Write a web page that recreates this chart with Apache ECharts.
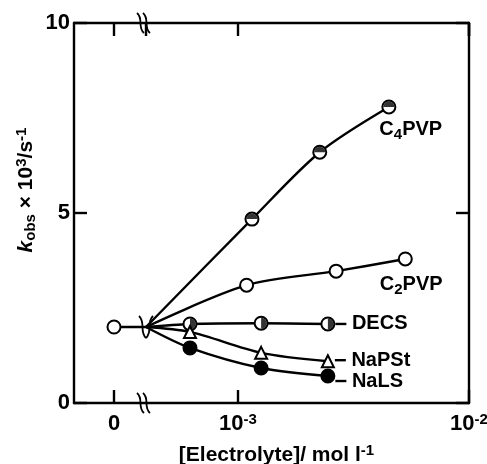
<!DOCTYPE html>
<html><head><meta charset="utf-8">
<script src="https://cdn.jsdelivr.net/npm/echarts@6/dist/echarts.min.js"></script>
<style>html,body{margin:0;padding:0;background:#fff}#c{width:487px;height:464px}</style>
</head><body><div id="c"></div>
<script>
// ---- data ----
const zeroConc = [0];            // electrolyte-free point
const zeroK = [2.0];
const kAtBreak = 2.0;            // common origin of all curves at the axis break
const concC4PVP = [1.15e-3, 2.26e-3, 4.5e-3];
const kC4PVP    = [4.84, 6.6, 7.79];
const concC2PVP = [1.09e-3, 2.66e-3, 5.3e-3];
const kC2PVP    = [3.1, 3.47, 3.79];
const concDECS  = [6.2e-4, 1.26e-3, 2.45e-3];
const kDECS     = [2.08, 2.1, 2.08];
const concNaPSt = [6.2e-4, 1.26e-3, 2.45e-3];
const kNaPSt    = [1.87, 1.32, 1.1];
const concNaLS  = [6.2e-4, 1.26e-3, 2.45e-3];
const kNaLS     = [1.45, 0.92, 0.71];
const yTickValues = [0, 5, 10];
const linTickValues = [0];
const logMin = 4e-4, logMax = 1e-2;
const linMin = -1, linMax = 0.8;

// ---- style ----
const FONT = "'Liberation Sans',Arial,sans-serif";
const rich = {
  n:   {fontFamily: FONT, fontSize: 21, fontWeight: 'bold', color: '#000', lineHeight: 24},
  l:   {fontFamily: FONT, fontSize: 20, fontWeight: 'bold', color: '#000', lineHeight: 24},
  t:   {fontFamily: FONT, fontSize: 22, fontWeight: 'bold', color: '#000', lineHeight: 24},
  i:   {fontFamily: FONT, fontSize: 21, fontWeight: 'bold', fontStyle: 'italic', color: '#000', lineHeight: 24},
  sub: {fontFamily: FONT, fontSize: 15, fontWeight: 'bold', color: '#000', lineHeight: 12, verticalAlign: 'bottom'},
  sup: {fontFamily: FONT, fontSize: 15, fontWeight: 'bold', color: '#000', lineHeight: 12, verticalAlign: 'top'},
  d:   {width: 11, height: 2.4, backgroundColor: '#000', verticalAlign: 'middle'}
};
const LW = 2.4;
const axisLine = {show: true, onZero: false, lineStyle: {color: '#000', width: LW}};
const tick = {show: true, inside: true, length: 13, lineStyle: {color: '#000', width: LW}};

function supLabel(v) {
  const e = Math.round(Math.log10(v));
  if (Math.abs(Math.log10(v) - e) > 1e-6) return '';
  return '{t|10}{sup|' + e + '}';
}

const chart = echarts.init(document.getElementById('c'), null, {renderer: 'canvas'});

function curve(name, conc, k, symbol, fill, labelText, offset, dist) {
  const data = [{value: [logMin, kAtBreak], symbol: 'none'}]
    .concat(conc.map((c, i) => ({value: [c, k[i]]})));
  data[data.length - 1].label = {
    show: true, position: 'right', distance: dist, offset: offset,
    formatter: labelText, rich: rich
  };
  return {
    name: name, type: 'line', xAxisIndex: 2, yAxisIndex: 1,
    data: data, smooth: 0.3, symbol: symbol, symbolSize: symbol === 'triangle' ? 12 : 13,
    showAllSymbol: true,
    lineStyle: {color: '#000', width: LW},
    itemStyle: {color: fill, borderColor: '#000', borderWidth: 2},
    z: 2
  };
}
function half(conc, k, path, size, off) {
  return {
    type: 'scatter', xAxisIndex: 2, yAxisIndex: 1,
    data: conc.map((c, i) => [c, k[i]]),
    symbol: path, symbolSize: size, symbolOffset: off,
    itemStyle: {color: '#000'}, z: 4, silent: true
  };
}

const option = {
  animation: false,
  backgroundColor: '#fff',
  grid: [
    {left: 74, top: 23, width: 72, height: 380, containLabel: false, outerBoundsMode: 'none'},
    {left: 146, top: 23, width: 323, height: 380, containLabel: false, outerBoundsMode: 'none'}
  ],
  xAxis: [
    {gridIndex: 0, type: 'value', position: 'bottom', min: linMin, max: linMax,
     axisLine: axisLine, splitLine: {show: false},
     axisTick: Object.assign({}, tick, {customValues: linTickValues}),
     axisLabel: {customValues: linTickValues, margin: 9, formatter: '{t|{value}}', rich: rich}},
    {gridIndex: 0, type: 'value', position: 'top', min: linMin, max: linMax,
     axisLine: axisLine, splitLine: {show: false},
     axisTick: Object.assign({}, tick, {customValues: linTickValues}),
     axisLabel: {show: false}},
    {gridIndex: 1, type: 'log', logBase: 10, position: 'bottom', min: logMin, max: logMax,
     axisLine: axisLine, splitLine: {show: false}, minorTick: {show: false},
     axisTick: tick,
     axisLabel: {margin: 9, formatter: supLabel, rich: rich, showMinLabel: false},
     name: '{n|[Electrolyte]/ mol l}{sup|-1}', nameLocation: 'middle', nameGap: 40,
     nameTextStyle: {rich: rich, padding: [0, 62, 0, 0]}},
    {gridIndex: 1, type: 'log', logBase: 10, position: 'top', min: logMin, max: logMax,
     axisLine: axisLine, splitLine: {show: false}, minorTick: {show: false},
     axisTick: tick, axisLabel: {show: false}}
  ],
  yAxis: [
    {gridIndex: 0, type: 'value', position: 'left', min: 0, max: 10, interval: 5,
     axisLine: axisLine, splitLine: {show: false}, axisTick: tick,
     axisLabel: {margin: 4, formatter: '{t|{value}}', rich: rich},
     name: '{i|k}{sub|obs}{n| × 10}{sup|3}{n|/s}{sup|-1}', nameLocation: 'middle',
     nameRotate: 90, nameGap: 36,
     nameTextStyle: {rich: rich, padding: [0, 0, 0, 46]}},
    {gridIndex: 1, type: 'value', position: 'right', min: 0, max: 10, interval: 5,
     axisLine: axisLine, splitLine: {show: false}, axisTick: tick,
     axisLabel: {show: false}}
  ],
  series: [
    {type: 'line', xAxisIndex: 0, yAxisIndex: 0,
     data: [{value: [zeroConc[0], zeroK[0]]}, {value: [linMax, kAtBreak], symbol: 'none'}],
     symbol: 'circle', symbolSize: 13,
     lineStyle: {color: '#000', width: LW},
     itemStyle: {color: '#fff', borderColor: '#000', borderWidth: 2}},
    curve('C4PVP', concC4PVP, kC4PVP, 'circle', '#fff', '{l|C}{sub|4}{l|PVP}', [-22, 23], 5),
    half(concC4PVP, kC4PVP, 'path://M0 10 A10 10 0 0 1 20 10 Z', [11, 5.5], [0, -2.75]),
    curve('C2PVP', concC2PVP, kC2PVP, 'circle', '#fff', '{l|C}{sub|2}{l|PVP}', [-38, 26], 5),
    curve('DECS', concDECS, kDECS, 'circle', '#fff', '{d|}{l| DECS}', [0, 0], 0),
    half(concDECS, kDECS, 'path://M0 0 A10 10 0 0 1 0 20 Z', [5.5, 11], [2.75, 0]),
    curve('NaPSt', concNaPSt, kNaPSt, 'triangle', '#fff', '{d|}{l| NaPSt}', [0, -1], 0),
    curve('NaLS', concNaLS, kNaLS, 'circle', '#000', '{d|}{l| NaLS}', [0, 5], 0)
  ]
};
chart.setOption(option);

// axis-break glyphs placed through the axes' own scales
const pb = chart.convertToPixel({xAxisIndex: 2, yAxisIndex: 1}, [logMin, 0]);
const pt = chart.convertToPixel({xAxisIndex: 2, yAxisIndex: 1}, [logMin, 10]);
const pm = chart.convertToPixel({xAxisIndex: 2, yAxisIndex: 1}, [logMin, kAtBreak]);
function wave(dx, h, flip) {
  const s = flip ? -1 : 1;
  return {type: 'bezierCurve',
    shape: {x1: dx - 4 * s, y1: -h, cpx1: dx + 3 * s, cpy1: -h * 0.4, cpx2: dx - 4 * s, cpy2: h * 0.4, x2: dx + 3 * s, y2: h},
    style: {stroke: '#000', lineWidth: 1.8, fill: null}};
}
function breakGlyph(p, rectY, rectH) {
  return {type: 'group', x: p[0] - 2, y: p[1], z: 100, children: [
    {type: 'rect', shape: {x: -6, y: rectY, width: 15, height: rectH}, style: {fill: '#fff'}},
    wave(-3, 10), wave(3, 10)
  ]};
}
chart.setOption({graphic: [
  breakGlyph(pb, -16, 19),
  breakGlyph(pt, -3, 19),
  {type: 'group', x: pm[0], y: pm[1], z: 100, children: [wave(-3, 11), wave(3, 11, true)]}
]});
</script>
</body></html>
